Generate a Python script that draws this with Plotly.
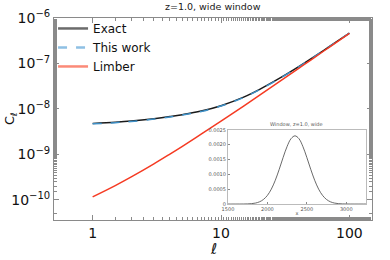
import plotly.graph_objects as go

# ---- data ----
ell = [1, 1.5, 2, 3, 4, 5, 7, 10, 15, 20, 30, 40, 50, 70, 100]
cl_exact = [4.82e-9, 5.11e-9, 5.42e-9, 6.12e-9, 6.82e-9, 7.51e-9, 8.99e-9, 1.18e-8,
            1.82e-8, 2.70e-8, 5.12e-8, 8.41e-8, 1.26e-7, 2.365e-7, 4.67e-7]
cl_this = [4.72e-9, 5.01e-9, 5.31e-9, 6.0e-9, 6.69e-9, 7.37e-9, 8.83e-9, 1.16e-8,
           1.79e-8, 2.66e-8, 5.06e-8, 8.34e-8, 1.25e-7, 2.36e-7, 4.66e-7]
cl_limber = [1.17e-10, 2.07e-10, 3.21e-10, 6.22e-10, 1.02e-9, 1.51e-9, 2.79e-9,
             5.40e-9, 1.16e-8, 2.02e-8, 4.42e-8, 7.71e-8, 1.19e-7, 2.30e-7, 4.61e-7]

win_x = [1500, 1550, 1600, 1650, 1700, 1750, 1800, 1850, 1900, 1950, 2000, 2050,
         2100, 2150, 2200, 2250, 2300, 2350, 2400, 2450, 2500, 2550, 2600, 2650,
         2700, 2750, 2800, 2850, 2900, 2950, 3000, 3050, 3100, 3150, 3200, 3250]
win_w = [0, 0, 0.0000002, 0.0000006, 0.0000018, 0.0000052, 0.0000138, 0.0000336,
         0.000075, 0.000154, 0.000290, 0.000503, 0.000800, 0.001170, 0.001573,
         0.001942, 0.002205, 0.002300, 0.002205, 0.001942, 0.001573, 0.001170,
         0.000800, 0.000503, 0.000290, 0.000154, 0.000075, 0.0000336, 0.0000138,
         0.0000052, 0.0000018, 0.0000006, 0.0000002, 0, 0, 0]

main_xticks = [1, 10, 100]
main_xticktext = ["1", "10", "100"]
main_yticks = [1e-10, 1e-9, 1e-8, 1e-7, 1e-6]
main_yexp = ["−10", "−9", "−8", "−7", "−6"]
inset_xticks = [1500, 2000, 2500, 3000]
inset_yticks = [0, 0.0005, 0.0010, 0.0015, 0.0020, 0.0025]
inset_yticktext = ["0", "0.0005", "0.0010", "0.0015", "0.0020", "0.0025"]

FONT = "DejaVu Sans"
AX = "#8a8a8a"

fig = go.Figure()

fig.add_trace(go.Scatter(x=ell, y=cl_exact, mode="lines", line=dict(color="#1a1a1a", width=1.5),
                         line_shape="spline", showlegend=False))
fig.add_trace(go.Scatter(x=ell, y=cl_this, mode="lines", line=dict(color="#3d8fc6", width=1.5, dash="dash"),
                         line_shape="spline", showlegend=False))
fig.add_trace(go.Scatter(x=ell, y=cl_limber, mode="lines", line=dict(color="#f53a22", width=1.5),
                         line_shape="spline", showlegend=False))

# legend handles (lighter, thicker as in the reference)
fig.add_trace(go.Scatter(x=[None], y=[None], mode="lines", name="Exact",
                         line=dict(color="#6b6b6b", width=2.5)))
fig.add_trace(go.Scatter(x=[None], y=[None], mode="lines", name="This work",
                         line=dict(color="#8ec0e4", width=2.5, dash="dash")))
fig.add_trace(go.Scatter(x=[None], y=[None], mode="lines", name="Limber",
                         line=dict(color="#fb8a78", width=2.5)))

# inset
fig.add_trace(go.Scatter(x=win_x, y=win_w, mode="lines", line=dict(color="#444444", width=0.8),
                         line_shape="spline", xaxis="x2", yaxis="y2", showlegend=False))

fig.update_layout(
    width=390, height=260,
    margin=dict(l=54, r=18, t=18, b=40),
    paper_bgcolor="white", plot_bgcolor="white",
    font=dict(family=FONT, size=13, color="#111111"),
    legend=dict(x=-0.003, y=1.02, xanchor="left", yanchor="top", bgcolor="rgba(0,0,0,0)",
                font=dict(size=12), tracegroupgap=0, itemwidth=30),
    xaxis=dict(type="log", range=[-0.301, 2.176], tickvals=main_xticks, ticktext=main_xticktext,
               ticks="inside", ticklen=5, tickcolor=AX, showline=True, linecolor=AX, linewidth=1,
               mirror="allticks", showgrid=False, zeroline=False, automargin=False,
               minor=dict(ticks="inside", ticklen=3, tickcolor=AX, showgrid=False),
               tickfont=dict(size=14)),
    yaxis=dict(type="log", range=[-10.44, -6], tickvals=main_yticks,
               ticktext=["10<sup><span style='font-size:10px'>%s</span></sup>" % e for e in main_yexp],
               ticks="inside", ticklen=5, tickcolor=AX, showline=True, linecolor=AX, linewidth=1,
               mirror="allticks", showgrid=False, zeroline=False, automargin=False,
               minor=dict(ticks="inside", ticklen=3, tickcolor=AX, showgrid=False),
               tickfont=dict(size=14)),
    xaxis2=dict(domain=[0.547, 0.981], anchor="y2", range=[1500, 3250], tickvals=inset_xticks,
                ticks="inside", ticklen=2, tickcolor=AX, showline=True, linecolor="#bbbbbb", linewidth=1,
                mirror=True, showgrid=False, zeroline=False, automargin=False,
                tickfont=dict(size=5, color="#555555"),
                title=dict(text="x", standoff=0, font=dict(size=5, color="#555555"))),
    yaxis2=dict(domain=[0.079, 0.446], anchor="x2", range=[0, 0.0025], tickvals=inset_yticks,
                ticktext=inset_yticktext, ticks="inside", ticklen=2, tickcolor=AX, showline=True,
                linecolor="#bbbbbb", linewidth=1, mirror=True, showgrid=False, zeroline=False,
                automargin=False, tickfont=dict(size=5, color="#555555")),
    shapes=[dict(type="rect", xref="paper", yref="paper", x0=0.547, x1=0.981, y0=0.079, y1=0.446,
                 fillcolor="white", line=dict(width=0), layer="below")],
    annotations=[
        dict(text="z=1.0, wide window", xref="paper", yref="paper", x=0.5, y=1,
             xanchor="center", yanchor="bottom", yshift=4, showarrow=False,
             font=dict(size=9.5, color="#222222")),
        dict(text="Window, z=1.0, wide", xref="paper", yref="paper", x=0.764, y=0.446,
             xanchor="center", yanchor="bottom", yshift=1, showarrow=False,
             font=dict(size=5, color="#555555")),
        dict(text="ℓ", xref="paper", yref="paper", x=0.5, y=0, yshift=-29,
             xanchor="center", yanchor="middle", showarrow=False, font=dict(size=15)),
        dict(text="C<sub>ℓ</sub>", xref="paper", yref="paper", x=0, xshift=-44, y=0.5,
             xanchor="center", yanchor="middle", textangle=-90, showarrow=False, font=dict(size=13)),
    ],
)

fig.write_html("out.html", post_script="document.body.style.margin='0';",
               config={"displayModeBar": False})
